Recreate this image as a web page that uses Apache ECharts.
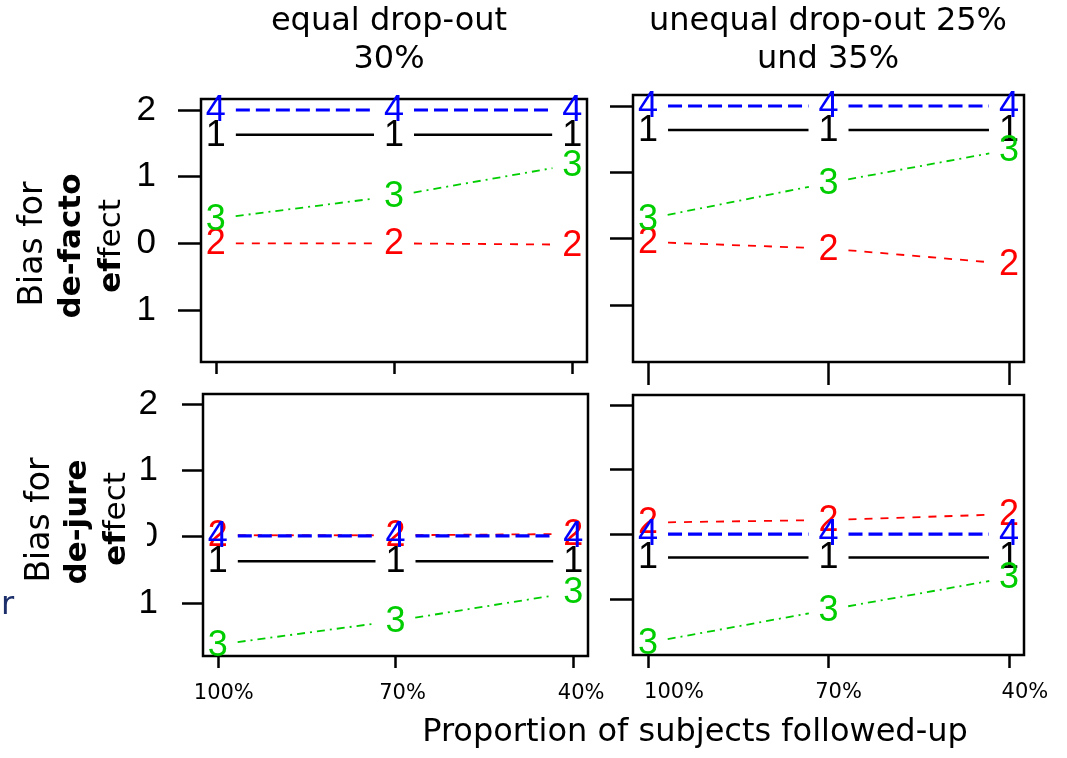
<!DOCTYPE html>
<html>
<head>
<meta charset="utf-8">
<script src="https://cdn.jsdelivr.net/npm/echarts@6/dist/echarts.min.js"></script>
<style>
  html, body { margin: 0; padding: 0; background: #ffffff; }
  #main { width: 1067px; height: 758px; }
</style>
</head>
<body>
<div id="main"></div>
<script>
// x: proportion of subjects followed-up
var proportionLabels = ['100%', '70%', '40%'];
var proportions = [100, 70, 40];
var yTicks = [-1, 0, 1, 2];

// bias for de-facto effect, equal drop-out 30%
var factoEqual1 = [1.63, 1.63, 1.63];
var factoEqual2 = [0.00, 0.00, -0.02];
var factoEqual3 = [0.37, 0.71, 1.18];
var factoEqual4 = [2.00, 2.00, 2.00];

// bias for de-facto effect, unequal drop-out 25% und 35%
var factoUnequal1 = [1.64, 1.64, 1.64];
var factoUnequal2 = [-0.05, -0.15, -0.38];
var factoUnequal3 = [0.30, 0.84, 1.34];
var factoUnequal4 = [2.00, 2.00, 2.00];

// bias for de-jure effect, equal drop-out 30%
var jureEqual1 = [-0.37, -0.37, -0.37];
var jureEqual2 = [0.02, 0.02, 0.04];
var jureEqual3 = [-1.63, -1.27, -0.84];
var jureEqual4 = [0.01, 0.01, 0.01];

// bias for de-jure effect, unequal drop-out 25% und 35%
var jureUnequal1 = [-0.36, -0.36, -0.36];
var jureUnequal2 = [0.18, 0.22, 0.31];
var jureUnequal3 = [-1.68, -1.17, -0.67];
var jureUnequal4 = [0.00, 0.00, 0.00];

var curveStyles = [
    { digit: '1', color: '#000000', width: 2.5, dash: null },
    { digit: '2', color: '#ff0000', width: 1.8, dash: [8, 8] },
    { digit: '3', color: '#00cd00', width: 1.8, dash: [8, 5, 2, 5] },
    { digit: '4', color: '#0000ff', width: 3.2, dash: [14, 6] }
];

var GAP = 20;
var tickFont = '"Liberation Sans", Arial, sans-serif';
var textFont = '"DejaVu Sans", sans-serif';

var chart = echarts.init(document.getElementById('main'));

function makeRenderer(ys, st) {
    return function (params, api) {
        var i = params.dataIndex;
        var p = api.coord([proportions[i], ys[i]]);
        var children = [];
        if (i < proportions.length - 1) {
            var q = api.coord([proportions[i + 1], ys[i + 1]]);
            var dx = q[0] - p[0], dy = q[1] - p[1];
            var len = Math.sqrt(dx * dx + dy * dy);
            var ux = dx / len, uy = dy / len;
            children.push({
                type: 'line',
                shape: { x1: p[0] + ux * GAP, y1: p[1] + uy * GAP, x2: q[0] - ux * GAP, y2: q[1] - uy * GAP },
                style: { stroke: st.color, lineWidth: st.width, lineDash: st.dash }
            });
        }
        children.push({
            type: 'text',
            x: p[0],
            y: p[1] + 1,
            z2: 10,
            style: {
                text: st.digit,
                fill: st.color,
                font: '36px ' + tickFont,
                align: 'center',
                verticalAlign: 'middle'
            }
        });
        return { type: 'group', children: children };
    };
}

function panelSeries(idx, curves) {
    return curves.map(function (ys, k) {
        return {
            type: 'custom',
            xAxisIndex: idx,
            yAxisIndex: idx,
            data: proportions.map(function (p, i) { return [p, ys[i]]; }),
            renderItem: makeRenderer(ys, curveStyles[k]),
            clip: false,
            silent: true
        };
    });
}

var grids = [
    { left: 201, top: 99, width: 386, height: 263 },
    { left: 633, top: 95, width: 391, height: 267 },
    { left: 203, top: 394, width: 385, height: 262 },
    { left: 633, top: 395, width: 391, height: 260 }
];
var yRanges = [[-1.78, 2.165], [-1.86, 2.166], [-1.80, 2.15], [-1.87, 2.155]];
var xTickLen = [12, 23, 12, 13];
// left padding per tick label (label centre moves right by half of it)
var xLabelPad = [[0, 0, 0], [0, 0, 0], [12, 14, 16], [52, 20, 32]];

function xLabelRich(idx) {
    var rich = {};
    xLabelPad[idx].forEach(function (pad, i) {
        rich['s' + i] = {
            padding: [0, 0, 0, pad],
            fontSize: 21,
            fontFamily: textFont,
            color: '#000000'
        };
    });
    return rich;
}

var option = {
    backgroundColor: '#ffffff',
    animation: false,
    grid: grids.map(function (g) {
        return {
            left: g.left, top: g.top, width: g.width, height: g.height,
            show: true, borderColor: '#000000', borderWidth: 2.5, backgroundColor: 'transparent'
        };
    }),
    xAxis: grids.map(function (g, idx) {
        return {
            type: 'value',
            gridIndex: idx,
            position: 'bottom',
            min: 37.5,
            max: 102.5,
            inverse: true,
            splitLine: { show: false },
            axisLine: { show: false, onZero: false },
            axisTick: {
                show: true, length: xTickLen[idx], customValues: proportions,
                lineStyle: { color: '#000000', width: 2.5 }
            },
            axisLabel: {
                show: idx >= 2,
                customValues: proportions,
                margin: 27,
                fontSize: 21,
                fontFamily: textFont,
                color: '#000000',
                rich: xLabelRich(idx),
                formatter: function (v) {
                    var i = proportions.indexOf(v);
                    return '{s' + i + '|' + proportionLabels[i] + '}';
                }
            }
        };
    }),
    yAxis: grids.map(function (g, idx) {
        return {
            type: 'value',
            gridIndex: idx,
            position: 'left',
            min: yRanges[idx][0],
            max: yRanges[idx][1],
            splitLine: { show: false },
            axisLine: { show: false, onZero: false },
            axisTick: {
                show: true, length: idx === 2 ? 21 : 23, customValues: yTicks,
                lineStyle: { color: '#000000', width: 2.5 }
            },
            axisLabel: {
                show: idx % 2 === 0,
                customValues: yTicks,
                margin: 45,
                fontSize: 35,
                fontFamily: tickFont,
                color: '#000000',
                formatter: function (v) { return String(Math.abs(v)); }
            }
        };
    }),
    series: [].concat(
        panelSeries(0, [factoEqual1, factoEqual2, factoEqual3, factoEqual4]),
        panelSeries(1, [factoUnequal1, factoUnequal2, factoUnequal3, factoUnequal4]),
        panelSeries(2, [jureEqual1, jureEqual2, jureEqual3, jureEqual4]),
        panelSeries(3, [jureUnequal1, jureUnequal2, jureUnequal3, jureUnequal4])
    ),
    graphic: [
        {
            type: 'text', x: 389, y: 41, z: 50,
            style: { text: 'equal drop-out\n30%', fontSize: 32, lineHeight: 38, fontFamily: textFont,
                     fill: '#000000', align: 'center', verticalAlign: 'middle' }
        },
        {
            type: 'text', x: 828, y: 41, z: 50,
            style: { text: 'unequal drop-out 25%\nund 35%', fontSize: 32, lineHeight: 38, fontFamily: textFont,
                     fill: '#000000', align: 'center', verticalAlign: 'middle' }
        },
        {
            type: 'text', x: 33, y: 244, rotation: Math.PI / 2, z: 50,
            style: { text: 'Bias for', fontSize: 33, fontFamily: textFont, fill: '#000000',
                     align: 'center', verticalAlign: 'middle' }
        },
        {
            type: 'text', x: 72, y: 246, rotation: Math.PI / 2, z: 50,
            style: { text: 'de-facto', fontSize: 31, fontWeight: 'bold', fontFamily: textFont, fill: '#000000',
                     align: 'center', verticalAlign: 'middle' }
        },
        {
            type: 'text', x: 112, y: 246, rotation: Math.PI / 2, z: 50,
            style: { text: '{b|ef}{n|fect}', align: 'center', verticalAlign: 'middle',
                     rich: {
                         b: { fontSize: 31, fontWeight: 'bold', fontFamily: textFont, fill: '#000000' },
                         n: { fontSize: 31, fontFamily: textFont, fill: '#000000' }
                     } }
        },
        {
            type: 'text', x: 40, y: 520, rotation: Math.PI / 2, z: 50,
            style: { text: 'Bias for', fontSize: 33, fontFamily: textFont, fill: '#000000',
                     align: 'center', verticalAlign: 'middle' }
        },
        {
            type: 'text', x: 78, y: 522, rotation: Math.PI / 2, z: 50,
            style: { text: 'de-jure', fontSize: 31, fontWeight: 'bold', fontFamily: textFont, fill: '#000000',
                     align: 'center', verticalAlign: 'middle' }
        },
        {
            type: 'text', x: 117, y: 519, rotation: Math.PI / 2, z: 50,
            style: { text: '{b|ef}{n|fect}', align: 'center', verticalAlign: 'middle',
                     rich: {
                         b: { fontSize: 31, fontWeight: 'bold', fontFamily: textFont, fill: '#000000' },
                         n: { fontSize: 31, fontFamily: textFont, fill: '#000000' }
                     } }
        },
        {
            type: 'text', x: 695, y: 733, z: 50,
            style: { text: 'Proportion of subjects followed-up', fontSize: 32, fontFamily: textFont,
                     fill: '#000000', align: 'center', verticalAlign: 'middle' }
        },
        {
            type: 'text', x: 1, y: 606, z: 50,
            style: { text: 'r', fontSize: 32, fontFamily: textFont, fill: '#1c2f6b',
                     align: 'left', verticalAlign: 'middle' }
        },
        {
            type: 'rect', z: 60,
            shape: { x: 125, y: 520, width: 22, height: 36 },
            style: { fill: '#ffffff' }
        }
    ]
};

chart.setOption(option);
window.onresize = function () {
    chart.resize();
};
</script>
</body>
</html>
